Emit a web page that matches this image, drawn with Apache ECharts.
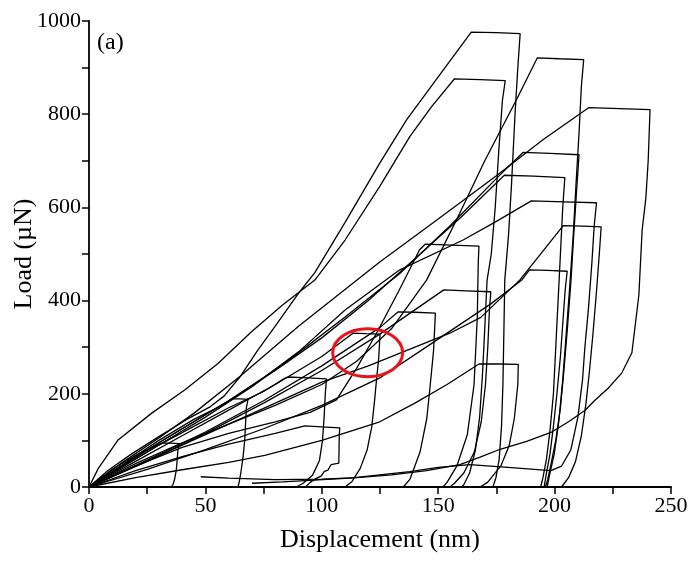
<!DOCTYPE html>
<html>
<head>
<meta charset="utf-8">
<script src="https://cdn.jsdelivr.net/npm/echarts@6/dist/echarts.min.js"></script>
<style>
html,body{margin:0;padding:0;background:#fff;}
#chart{width:688px;height:563px;}
</style>
</head>
<body>
<div id="chart"></div>
<script>
// Tick labels
const xLabelValues = [0, 50, 100, 150, 200, 250];
const yLabelValues = [0, 200, 400, 600, 800, 1000];

// Load–displacement curves [displacement (nm), load (µN)]
const curveA = [[0,0],[8,35],[18,70],[30,108],[42,145],[52,172],[58,195],[64.8,236],[72,290],[80,345],[90.5,419],[97,460],[110,568],[124.9,695],[136.4,788],[150,880],[164.2,976],[175,975],[185.2,973],[184.2,900],[183,800],[181.5,650],[180.2,540],[178.6,444],[178.2,330],[177.8,220],[177.2,130],[176.2,60],[174.8,20],[173.5,0]];
const curveB = [[0,0],[4,40],[12.5,101],[26.8,158],[41.1,208],[55.4,265],[69.8,333],[83,390],[97,444],[110,530],[124.9,645],[137.8,752],[147,815],[157,876],[168,874],[178.8,872],[177.6,830],[176,720],[174.5,600],[172.8,500],[171,444],[170,340],[169,240],[167.8,150],[166,80],[163.5,30],[161,5],[160,0]];
const curveC = [[0,0],[20,50],[40,95],[60,135],[80,175],[100,220],[115,270],[130,340],[145,444],[159.2,587],[170,700],[183.5,830],[192.6,921],[202,919],[212.5,917],[211.5,860],[210.5,760],[209.2,650],[208,540],[206.5,430],[205,330],[203.5,230],[201.8,140],[199.8,70],[197.8,25],[196.8,0]];
const curveD = [[0,0],[15,55],[30,105],[45,158],[64.8,237],[90,345],[124.9,483],[150,575],[175,668],[195,745],[214.6,814],[228,812],[241,810],[240.2,700],[239.2,620],[237.6,551],[236.2,412],[233.2,288],[228.9,245],[223,212],[217.1,185],[213,164],[206,140],[198.4,117],[188,98],[176.6,81],[168,64],[159.3,48],[145,35],[130,26],[115,20],[100,17],[80,16],[60,19],[48,22]];
const curveE = [[0,0],[15,48],[30,95],[45,140],[60,185],[75,235],[90.5,290],[110,365],[133.5,458],[155,560],[175.8,666],[186.4,718],[198,716],[210.5,713],[209.5,640],[208.2,540],[207,440],[205.5,340],[204,250],[202.5,170],[200.5,100],[198.5,50],[197,15],[196,0]];
const curveF = [[0,0],[15,48],[30,95],[45,140],[60,185],[80,250],[100,320],[120,400],[140,490],[160,580],[178.4,669],[191,667],[204.4,664],[203.5,600],[202.5,500],[201.5,400],[200.5,300],[199.5,200],[198,120],[196.5,60],[195,20],[194,0]];
const curveG = [[0,0],[15,45],[30,90],[50,150],[70,215],[90,290],[110,380],[133.5,466],[160.7,530],[175,570],[190,614],[204,612],[218,610],[217,560],[216,480],[214.5,380],[213,300],[212,230],[210,150],[207,80],[203,45],[198.4,35],[180,42],[163.5,48],[150,42],[137.8,33],[112,19],[83.3,11],[70,8]];
const curveH = [[0,0],[20,45],[40,90],[60,135],[80,180],[100,225],[120,260],[140,300],[155,330],[168.3,364],[185,444],[194.3,502],[203.7,561],[212,560],[220,558],[219.2,500],[218,420],[216.5,330],[215,250],[213.5,180],[211.5,110],[209,55],[206,20],[203,0]];
const curveI = [[0,0],[20,45],[40,85],[60,115],[80,140],[95,160],[106.3,187],[115,255],[123.5,330],[133,420],[142,509],[144.4,521],[156,519],[167.5,517],[167.2,480],[166.8,365],[165.4,220],[162.5,112],[158.1,46],[153.8,10],[152,0]];
const curveJ = [[0,0],[25,38],[50,80],[75,125],[100,175],[124.9,234],[146.6,306],[172.6,393],[185.9,444],[189.2,466],[197,465],[205.4,463],[204.5,420],[203.5,350],[202.5,280],[201,200],[199.5,130],[198,70],[196.5,30],[195.5,0]];
const curveK = [[0,0],[25,55],[50,115],[75,180],[100,250],[124.9,328],[152.4,423],[162,421],[172.6,419],[172,380],[171.3,300],[170.3,220],[168.5,140],[165.5,75],[161,30],[157,8],[155,0]];
const curveL = [[0,0],[25,58],[50,118],[75,185],[100,260],[124.9,342],[132.8,376],[140,375],[148.8,373],[148,292],[146.6,220],[145.1,147],[142.2,75],[137.9,17],[135,0]];
const curveM = [[0,0],[20,20],[40,37],[60,53],[75.5,68],[100,100],[124.9,140],[140,180],[153.8,220],[167.5,264],[176,264],[184.4,263],[184.2,220],[182.7,147],[180.5,89],[177,46],[171.2,10],[168,0]];
const curveN = [[0,0],[20,55],[40,110],[60,165],[80,220],[100,280],[113.4,330],[119,329],[125,328],[124.5,280],[123.5,230],[122.7,187],[121.5,130],[119.5,80],[116.5,40],[113,12],[110,0]];
const curveO = [[0,0],[15,45],[30,90],[45,130],[60,170],[75,205],[84,233],[85.5,236],[94,234],[102,232],[101.5,200],[101,150],[100.3,100],[99,57],[96,25],[92,8],[89,0]];
const curveP = [[0,0],[15,50],[30,100],[45,145],[55,170],[59,180],[61.2,189],[65,189],[68.3,188],[67.6,170],[66.9,101],[66.2,65],[65.2,30],[64.5,10],[64,0]];
const curveQ = [[0,0],[20,35],[40,65],[60,92],[80,115],[92.7,131],[100,129],[107.7,127],[107.5,110],[107.3,51],[104,48],[103.5,44],[102.6,36],[101,33],[99.8,24],[97.5,18],[95,10],[93,0]];
const curveR = [[0,0],[10,38],[20,68],[31.1,94],[35,94],[39,93],[38.2,79],[37.5,36],[36.7,15],[36.1,6],[35.4,0]];

const curves = [curveA, curveB, curveC, curveD, curveE, curveF, curveG, curveH, curveI,
                curveJ, curveK, curveL, curveM, curveN, curveO, curveP, curveQ, curveR];

// Highlighted region (red ellipse) centre in data units
const markCenter = [119.7, 288];

const chart = echarts.init(document.getElementById('chart'), null, {renderer: 'canvas'});
const font = 'Liberation Serif';

const option = {
  animation: false,
  backgroundColor: '#fff',
  grid: {left: 89, right: 17, top: 21, bottom: 76, containLabel: false, outerBoundsMode: 'none'},
  xAxis: {
    type: 'value', min: 0, max: 250, interval: 25,
    name: 'Displacement (nm)', nameLocation: 'middle', nameGap: 40, nameMoveOverlap: false,
    nameTextStyle: {fontFamily: font, fontSize: 26, color: '#000'},
    axisLine: {show: true, onZero: false, lineStyle: {color: '#000', width: 1.8}},
    axisTick: {show: true, inside: false, length: 7, lineStyle: {color: '#000', width: 1.5}},
    axisLabel: {
      fontFamily: font, fontSize: 22, color: '#000', margin: 8,
      formatter: v => xLabelValues.indexOf(v) >= 0 ? String(v) : ''
    },
    splitLine: {show: false}
  },
  yAxis: {
    type: 'value', min: 0, max: 1000, interval: 100,
    name: 'Load (\u00B5N)', nameLocation: 'middle', nameGap: 52, nameRotate: 90, nameMoveOverlap: false,
    nameTextStyle: {fontFamily: font, fontSize: 26, color: '#000'},
    axisLine: {show: true, onZero: false, lineStyle: {color: '#000', width: 1.8}},
    axisTick: {show: true, inside: false, length: 7, lineStyle: {color: '#000', width: 1.5}},
    axisLabel: {
      fontFamily: font, fontSize: 22, color: '#000', margin: 8,
      formatter: v => yLabelValues.indexOf(v) >= 0 ? String(v) : ''
    },
    splitLine: {show: false}
  },
  series: curves.map((c, i) => ({
    type: 'line', name: 'c' + i, data: c, showSymbol: false, symbol: 'none',
    smooth: false, silent: true, z: 2,
    lineStyle: {color: '#000', width: 1.3}
  }))
};
chart.setOption(option);

const ctr = chart.convertToPixel({gridIndex: 0}, markCenter);
chart.setOption({
  graphic: [
    {type: 'text', left: 97, top: 31, z: 10,
     style: {text: '(a)', font: '24px "Liberation Serif"', fill: '#000'}},
    {type: 'ellipse', z: 10, shape: {cx: ctr[0], cy: ctr[1], rx: 35, ry: 24},
     style: {fill: 'none', stroke: '#e8141b', lineWidth: 3}}
  ]
});
</script>
</body>
</html>
